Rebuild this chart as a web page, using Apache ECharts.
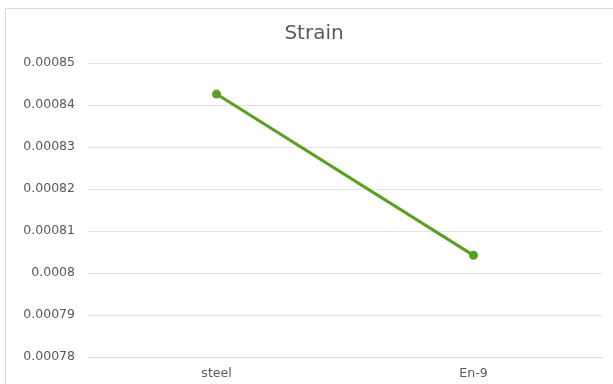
<!DOCTYPE html>
<html><head><meta charset="utf-8">
<script src="https://cdn.jsdelivr.net/npm/echarts@6/dist/echarts.min.js"></script>
<style>html,body{margin:0;padding:0;background:#fff}#c{width:613px;height:384px}</style>
</head><body><div id="c"></div>
<script>
const categories = ['steel', 'En-9'];
const strainValues = [0.0008426, 0.0008042];
const yTicks = [0.00078, 0.00079, 0.0008, 0.00081, 0.00082, 0.00083, 0.00084, 0.00085];
const titleText = 'Strain';

const chart = echarts.init(document.getElementById('c'), null, {renderer: 'canvas'});
const font = '"DejaVu Sans", Verdana, sans-serif';
chart.setOption({
  animation: false,
  backgroundColor: '#fff',
  graphic: [
    {type: 'rect', shape: {x: 5.5, y: 8.5, width: 620, height: 390},
      style: {fill: 'none', stroke: '#d9d9d9', lineWidth: 1}, silent: true},
    {type: 'text', x: 314, y: 34, silent: true,
      style: {text: titleText, fill: '#595959', font: '20px ' + font, align: 'center', verticalAlign: 'middle'}}
  ],
  grid: {left: 88, right: 11, top: 63, bottom: 27},
  xAxis: {type: 'category', data: categories, boundaryGap: true,
    axisLine: {show: true, lineStyle: {color: '#d9d9d9'}},
    axisTick: {show: false},
    axisLabel: {color: '#595959', fontSize: 12.5, fontFamily: font, margin: 10}},
  yAxis: {type: 'value', min: yTicks[0], max: yTicks[yTicks.length - 1], interval: 0.00001,
    axisLine: {show: false}, axisTick: {show: false},
    splitLine: {lineStyle: {color: '#e3e3e3'}},
    axisLabel: {color: '#595959', fontSize: 12.5, fontFamily: font, margin: 13,
      formatter: v => { let s = String(parseFloat(v.toPrecision(6))); if (s.includes('e')) s = v.toFixed(5).replace(/0+$/, ''); return s; }}},
  series: [{type: 'line', data: strainValues, symbol: 'circle', symbolSize: 9,
    lineStyle: {color: '#58A021', width: 3}, itemStyle: {color: '#58A021'}}]
});
</script></body></html>
